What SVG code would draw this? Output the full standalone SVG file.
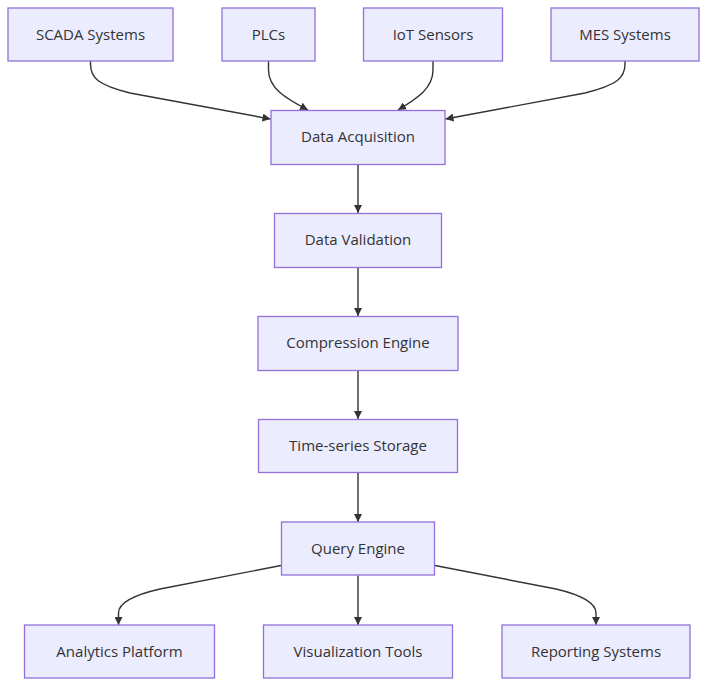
<svg xmlns="http://www.w3.org/2000/svg" width="715" height="694" viewBox="0 0 715 694">
<defs>
<style>
.node rect{fill:#ECECFF;stroke:#9370DB;stroke-width:1.3px;}
.node text{font-family:"Open Sans","DejaVu Sans",sans-serif;font-size:15px;fill:#333;text-anchor:middle;dominant-baseline:central;}
.edge{fill:none;stroke:#333;stroke-width:1.4px;marker-end:url(#arrow);}
</style>
<marker id="arrow" viewBox="0 0 10 10" refX="10" refY="5" markerWidth="8" markerHeight="8" markerUnits="userSpaceOnUse" orient="auto">
<path d="M0,0 L10,5 L0,10 z" fill="#333"/>
</marker>
</defs>
<rect width="715" height="694" fill="#fff"/>
<g id="connectors">
<path class="edge" d="M90.5,61 L90.5,64 C90.5,78 98,85 130,93 L270.5,119"/>
<path class="edge" d="M268.5,61 L268.5,70 C268.5,88 285,98 308,110"/>
<path class="edge" d="M433,61 L433,70 C433,88 418,98 398,110"/>
<path class="edge" d="M625,61 L625,64 C625,78 617,85 585,93 L445.5,119"/>
<path class="edge" d="M358,164 L358,213"/>
<path class="edge" d="M358,267 L358,316"/>
<path class="edge" d="M358,370 L358,419"/>
<path class="edge" d="M358,473 L358,522"/>
<path class="edge" d="M281,565.5 L160,589 C125,597 118.5,606 118.5,613 L118.5,625"/>
<path class="edge" d="M358,575.5 L358,625"/>
<path class="edge" d="M435,565.5 L556,589 C590,597 596,606 596,613 L596,625"/>
</g>
<g id="scada" class="node"><rect x="8" y="8" width="165" height="53"/><text x="90.5" y="33.5">SCADA Systems</text></g>
<g id="plcs" class="node"><rect x="222" y="8" width="93" height="53"/><text x="268.5" y="33.5">PLCs</text></g>
<g id="iot" class="node"><rect x="363.5" y="8" width="139" height="53"/><text x="433" y="33.5">IoT Sensors</text></g>
<g id="mes" class="node"><rect x="551" y="8" width="148" height="53"/><text x="625" y="33.5">MES Systems</text></g>
<g id="acq" class="node"><rect x="271" y="110.5" width="174" height="54"/><text x="358" y="136">Data Acquisition</text></g>
<g id="val" class="node"><rect x="274.5" y="213.5" width="167" height="54"/><text x="358" y="239">Data Validation</text></g>
<g id="comp" class="node"><rect x="258" y="316.5" width="200" height="54"/><text x="358" y="342">Compression Engine</text></g>
<g id="store" class="node"><rect x="258.5" y="419.5" width="199" height="53"/><text x="358" y="445">Time-series Storage</text></g>
<g id="query" class="node"><rect x="281.5" y="522" width="153" height="53"/><text x="358" y="547.5">Query Engine</text></g>
<g id="analytics" class="node"><rect x="24.5" y="625" width="190" height="53"/><text x="119.5" y="650.5">Analytics Platform</text></g>
<g id="viz" class="node"><rect x="263.5" y="625" width="189" height="53"/><text x="358" y="650.5">Visualization Tools</text></g>
<g id="report" class="node"><rect x="502" y="625" width="188" height="53"/><text x="596" y="650.5">Reporting Systems</text></g>
</svg>
